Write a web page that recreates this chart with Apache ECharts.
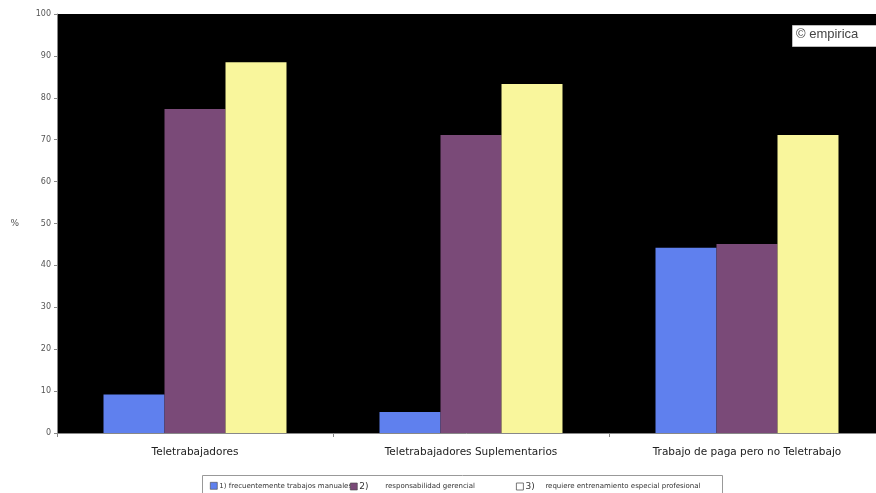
<!DOCTYPE html>
<html>
<head>
<meta charset="utf-8">
<script src="https://cdn.jsdelivr.net/npm/echarts@6/dist/echarts.min.js"></script>
<style>
  html, body { margin: 0; padding: 0; background: #fff; }
  #chart { width: 876px; height: 493px; }
</style>
</head>
<body>
<div id="chart"></div>
<script>
// Categories and series values (%)
const categories = ['Teletrabajadores', 'Teletrabajadores Suplementarios', 'Trabajo de paga pero no Teletrabajo'];
const manuales = [9.2, 5.0, 44.2];
const gerencial = [77.3, 71.1, 45.1];
const profesional = [88.5, 83.3, 71.1];
const seriesNames = [
  '1) frecuentemente trabajos manuales',
  '2) responsabilidad gerencial',
  '3) requiere entrenamiento especial profesional'
];
const colors = ['#5f80ee', '#7a4a78', '#f9f69c'];

const chart = echarts.init(document.getElementById('chart'));
const sans = '"DejaVu Sans", sans-serif';

// one legend block per series, placed along the framed strip under the axis
const legendSpots = [
  { left: 205, numW: 0 },
  { left: 345, numW: 26 },
  { left: 511, numW: 20 }
];
const legends = seriesNames.map((n, i) => {
  const sep = n.indexOf(' ');
  const num = n.slice(0, sep);
  const txt = n.slice(sep + 1);
  return {
    left: legendSpots[i].left, top: 477,
    itemWidth: 7, itemHeight: 7, itemGap: 0,
    icon: 'rect',
    formatter: () => (legendSpots[i].numW ? '{n|' + num + '}{t|' + txt + '}' : '{t|' + num + ' ' + txt + '}'),
    textStyle: {
      fontSize: 7, color: '#333', fontFamily: sans, padding: [0, 0, 0, -3],
      rich: {
        n: { fontSize: 9, color: '#333', width: legendSpots[i].numW, fontFamily: sans },
        t: { fontSize: 7, color: '#333', fontFamily: sans }
      }
    },
    data: [{
      name: n,
      itemStyle: i === 2 ? { color: '#ffffff', borderColor: '#555', borderWidth: 0.8 } : { borderColor: '#444', borderWidth: 0.6 }
    }]
  };
});

chart.setOption({
  backgroundColor: '#ffffff',
  animation: false,
  grid: {
    left: 57, width: 828, top: 14, bottom: 60,
    outerBoundsMode: 'none',
    backgroundColor: '#000000', show: true, borderWidth: 0
  },
  xAxis: {
    type: 'category',
    data: categories,
    axisLine: { show: true, lineStyle: { color: '#888', width: 1 } },
    axisTick: { show: true, length: 4, lineStyle: { color: '#888' } },
    axisLabel: { margin: 14, fontFamily: sans, fontSize: 10.5, color: '#222' }
  },
  yAxis: {
    type: 'value',
    min: 0, max: 100, interval: 10,
    name: '%',
    nameLocation: 'middle',
    nameGap: 38,
    nameRotate: 0,
    nameTextStyle: { fontSize: 9, color: '#555', fontFamily: sans },
    splitLine: { show: false },
    axisLine: { show: true, lineStyle: { color: '#888', width: 1 } },
    axisTick: { show: true, length: 3, lineStyle: { color: '#888' } },
    axisLabel: { margin: 6, fontSize: 8, color: '#555', fontFamily: sans }
  },
  legend: legends,
  graphic: [
    {
      type: 'rect', left: 200, top: 473,
      shape: { width: 520, height: 18 },
      style: { fill: 'none', stroke: '#999', lineWidth: 1 }, z: 10
    },
    {
      type: 'rect', left: 792, top: 25,
      shape: { width: 84, height: 21 },
      style: { fill: '#ffffff', stroke: '#bbb', lineWidth: 1 }, z: 10
    },
    {
      type: 'text', left: 796, top: 28,
      style: { text: '© empirica', fill: '#444', font: '13px "Liberation Sans", sans-serif' }, z: 11
    }
  ],
  series: [
    { name: seriesNames[0], type: 'bar', data: manuales, itemStyle: { color: colors[0] }, barGap: '0%', barCategoryGap: '33.7%' },
    { name: seriesNames[1], type: 'bar', data: gerencial, itemStyle: { color: colors[1] } },
    { name: seriesNames[2], type: 'bar', data: profesional, itemStyle: { color: colors[2] } }
  ]
});
</script>
</body>
</html>
